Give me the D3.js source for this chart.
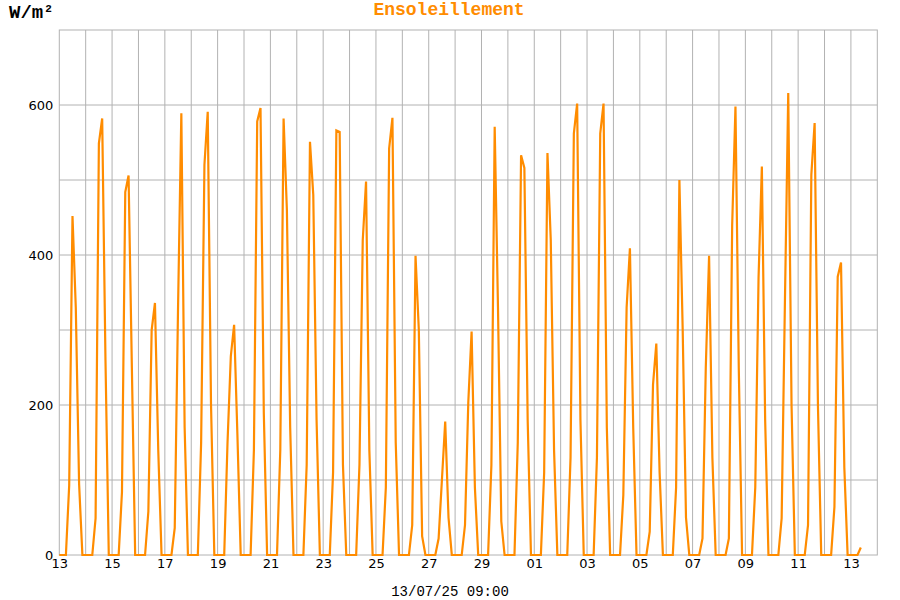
<!DOCTYPE html>
<html>
<head>
<meta charset="utf-8">
<script src="https://cdn.jsdelivr.net/npm/d3@7"></script>
<style>
html,body{margin:0;padding:0;background:#fff;}
svg{display:block;}
</style>
</head>
<body>
<svg id="chart" width="900" height="600"></svg>
<script>
// Readings every 3 hours (00h,03h,06h,09h,12h,15h,18h,21h), W/m², from 13/06/2025
const startDate = "2025-06-13";
const stepHours = 3;
const irradiance = [
  [0,0,0,93,452,330,95,0],
  [0,0,0,49,549,582,260,0],
  [0,0,0,84,484,506,250,0],
  [0,0,0,58,300,336,140,0],
  [0,0,0,36,330,589,170,0],
  [0,0,0,150,520,591,200,0],
  [0,0,0,150,265,307,160,0],
  [0,0,0,140,578,596,190,0],
  [0,0,0,140,582,460,170,0],
  [0,0,0,120,551,480,180,0],
  [0,0,0,110,566,564,120,0],
  [0,0,0,120,420,498,140,0],
  [0,0,0,90,542,583,150,0],
  [0,0,0,40,399,300,25,0],
  [0,0,0,22,100,178,50,0],
  [0,0,0,40,204,298,90,0],
  [0,0,0,120,571,330,45,0],
  [0,0,0,150,533,516,180,0],
  [0,0,0,110,536,420,140,0],
  [0,0,0,130,562,602,180,0],
  [0,0,0,130,562,602,170,0],
  [0,0,0,80,330,409,170,0],
  [0,0,0,31,227,282,110,0],
  [0,0,0,90,500,300,50,0],
  [0,0,0,22,250,399,130,0],
  [0,0,0,22,440,598,250,0],
  [0,0,0,90,370,518,180,0],
  [0,0,0,49,340,616,200,0],
  [0,0,0,40,507,576,200,0],
  [0,0,0,64,371,390,117,0],
  [0,0,0,10]
];
const yTickLabels = [0, 200, 400, 600];
const yGridValues = [100, 200, 300, 400, 500, 600];
const titleText = "Ensoleillement";
const unitText = "W/m";
const footerText = "13/07/25 09:00";

(function () {
const svg = d3.select("#chart");
const pLeft = 59.3, pRight = 877.3, pTop = 30, pBottom = 555;
const t0 = new Date(startDate + "T00:00:00Z");
const nDays = 31;
const t1 = d3.utcDay.offset(t0, nDays);

const x = d3.scaleUtc().domain([t0, t1]).range([pLeft, pRight]);
const y = d3.scaleLinear().domain([0, 700]).range([pBottom, pTop]);

const points = [];
irradiance.forEach((day, di) => {
  day.forEach((v, hi) => {
    points.push({t: d3.utcHour.offset(t0, di * 24 + hi * stepHours), v});
  });
});

const gridColor = "#b2b2b2";
const days = d3.utcDay.range(t0, t1);
const labelDays = days.filter((d, i) => i % 2 === 0);

// vertical grid (every day)
svg.append("g").selectAll("line").data(days.slice(1)).join("line")
  .attr("x1", d => x(d)).attr("x2", d => x(d))
  .attr("y1", pTop).attr("y2", pBottom)
  .attr("stroke", gridColor).attr("stroke-width", 1);

// horizontal grid
svg.append("g").selectAll("line").data(yGridValues).join("line")
  .attr("x1", pLeft).attr("x2", pRight)
  .attr("y1", d => y(d)).attr("y2", d => y(d))
  .attr("stroke", gridColor).attr("stroke-width", 1);

// frame
svg.append("rect").attr("x", pLeft).attr("y", pTop)
  .attr("width", pRight - pLeft).attr("height", pBottom - pTop)
  .attr("fill", "none").attr("stroke", gridColor).attr("stroke-width", 1);

// x tick labels
const xAxis = d3.axisBottom(x).tickValues(labelDays).tickFormat(d3.utcFormat("%d")).tickSize(0).tickPadding(4);
const gx = svg.append("g").attr("transform", `translate(0,${pBottom})`).call(xAxis);
gx.select(".domain").remove();
gx.selectAll("text").attr("font-family", "DejaVu Sans, Verdana, sans-serif").attr("font-size", 13).attr("fill", "#000");

// y tick labels
const yAxis = d3.axisLeft(y).tickValues(yTickLabels).tickFormat(d3.format("d")).tickSize(0).tickPadding(6);
const gy = svg.append("g").attr("transform", `translate(${pLeft},0)`).call(yAxis);
gy.select(".domain").remove();
gy.selectAll("text").attr("font-family", "DejaVu Sans, Verdana, sans-serif").attr("font-size", 13).attr("fill", "#000");

// line
const line = d3.line().x(d => x(d.t)).y(d => y(d.v));
svg.append("path").datum(points)
  .attr("d", line)
  .attr("fill", "none")
  .attr("stroke", "#ff8c00")
  .attr("stroke-width", 2.2)
  .attr("stroke-linejoin", "miter");

// title
svg.append("text").attr("x", 449).attr("y", 15)
  .attr("text-anchor", "middle")
  .attr("font-family", "Liberation Mono, Courier New, monospace")
  .attr("font-weight", "bold").attr("font-size", 18)
  .attr("fill", "#ff8c00").text(titleText);

// unit
const u = svg.append("text").attr("x", 9).attr("y", 18)
  .attr("font-family", "Liberation Mono, Courier New, monospace")
  .attr("font-weight", "bold").attr("font-size", 19).attr("fill", "#000");
u.append("tspan").text(unitText);
u.append("tspan").attr("dx", 2).attr("dy", -6).attr("font-size", 11).text("2");

// footer
svg.append("text").attr("x", 450).attr("y", 596)
  .attr("text-anchor", "middle")
  .attr("font-family", "Liberation Mono, Courier New, monospace")
  .attr("font-size", 14).attr("fill", "#000").text(footerText);
})();
</script>
</body>
</html>
